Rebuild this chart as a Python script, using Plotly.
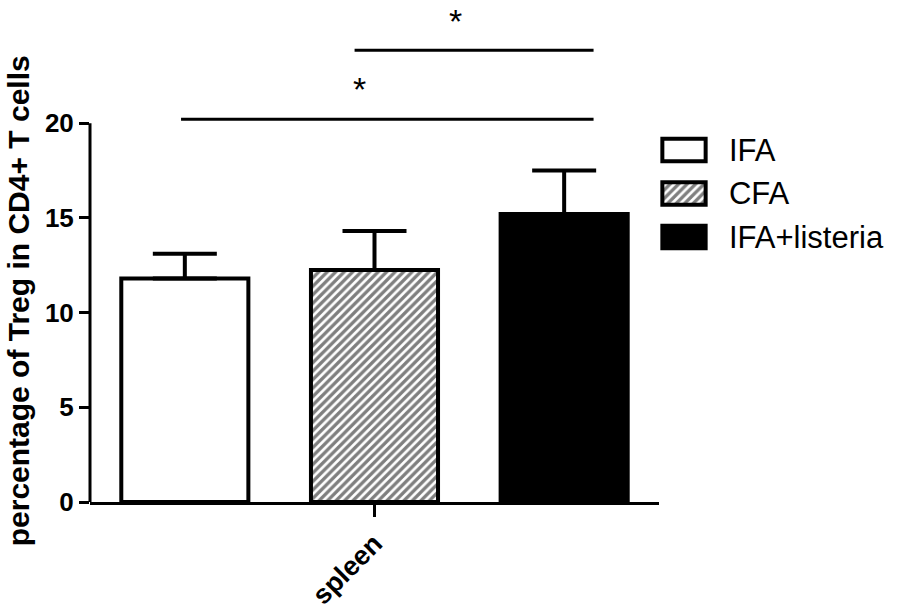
import plotly.graph_objects as go

# ---- data ----
categories = ["spleen"]
groups = ["IFA", "CFA", "IFA+listeria"]
means = [11.8, 12.25, 15.2]
sems = [1.3, 2.05, 2.3]
y_ticks = [0, 5, 10, 15, 20]
y_title = "percentage of Treg in CD4+ T cells"
# significance brackets (x in category-index units, y in data units)
sig_x0 = [-0.34, -0.035]
sig_x1 = [0.385, 0.385]
sig_y = [20.2, 23.85]
sig_label = ["*", "*"]
sig_label_x = [-0.026, 0.143]
sig_label_y = [21.8, 25.4]

FONT = "Arial, Liberation Sans, sans-serif"
fills = ["white", "white", "black"]
patterns = ["", "/", ""]

fig = go.Figure()
for g, m, s, fc, pt in zip(groups, means, sems, fills, patterns):
    fig.add_trace(go.Bar(
        x=categories, y=[m], name=g, showlegend=False,
        marker=dict(color=fc, line=dict(color="black", width=4),
                    pattern=dict(shape=pt, fgcolor="black", bgcolor="white",
                                 size=6, solidity=0.55, fillmode="overlay") if pt else None),
        error_y=dict(type="data", symmetric=False, array=[s], arrayminus=[0],
                     thickness=4, width=32, color="black"),
        xaxis="x", yaxis="y",
    ))

# legend swatches drawn as bars on a helper axis
for g, fc, pt in zip(groups, fills, patterns):
    fig.add_trace(go.Bar(
        x=[1], y=[g], base=0, orientation="h", width=0.52, showlegend=False,
        marker=dict(color=fc, line=dict(color="black", width=4),
                    pattern=dict(shape=pt, fgcolor="black", bgcolor="white",
                                 size=6, solidity=0.55, fillmode="overlay") if pt else None),
        xaxis="x2", yaxis="y2", hoverinfo="skip",
    ))

shapes = [dict(type="line", xref="paper", yref="y", x0=0, x1=0, y0=0, y1=y_ticks[-1],
               line=dict(color="black", width=3))]
for x0, x1, y in zip(sig_x0, sig_x1, sig_y):
    shapes.append(dict(type="line", xref="x", yref="y", x0=x0, x1=x1, y0=y, y1=y,
                       line=dict(color="black", width=3)))

annotations = [dict(text=t, x=x, y=y, xref="x", yref="y", showarrow=False,
                    font=dict(family=FONT, size=34, color="black"),
                    xanchor="center", yanchor="middle")
               for t, x, y in zip(sig_label, sig_label_x, sig_label_y)]
annotations.append(dict(text=y_title, textangle=-90, xref="paper", yref="paper",
                        x=-0.089, y=0.40, showarrow=False, xanchor="center", yanchor="middle",
                        font=dict(family=FONT, size=30, color="black", weight="bold")))

fig.update_layout(
    width=898, height=610,
    margin=dict(l=90, r=0, t=0, b=108),
    paper_bgcolor="white", plot_bgcolor="white",
    barmode="group", bargap=0, bargroupgap=0.33,
    showlegend=False,
    xaxis=dict(domain=[0, 0.7042], type="category", range=[-0.5, 0.5],
               showline=True, linecolor="black", linewidth=3,
               ticks="outside", ticklen=12, tickwidth=3, tickcolor="black",
               tickangle=-45, showgrid=False, zeroline=False,
               tickfont=dict(family=FONT, size=27, color="black", weight="bold")),
    yaxis=dict(range=[0, 26.5], showline=False, tickvals=y_ticks,
               ticks="outside", ticklen=10, tickwidth=3, tickcolor="black",
               showgrid=False, zeroline=False,
               tickfont=dict(family=FONT, size=26, color="black", weight="bold")),
    xaxis2=dict(domain=[0.7030, 0.7673], range=[-0.1, 1.1], anchor="y2",
                visible=False, fixedrange=True),
    yaxis2=dict(domain=[0.4846, 0.7445], anchor="x2", side="right", type="category",
                range=[2.5, -0.5], showline=False, showgrid=False, zeroline=False,
                ticks="", ticklabelstandoff=18,
                tickfont=dict(family=FONT, size=31, color="black")),
    shapes=shapes, annotations=annotations,
)

fig.write_html("out.html", config={"displayModeBar": False},
               post_script="document.body.style.margin='0px';")
